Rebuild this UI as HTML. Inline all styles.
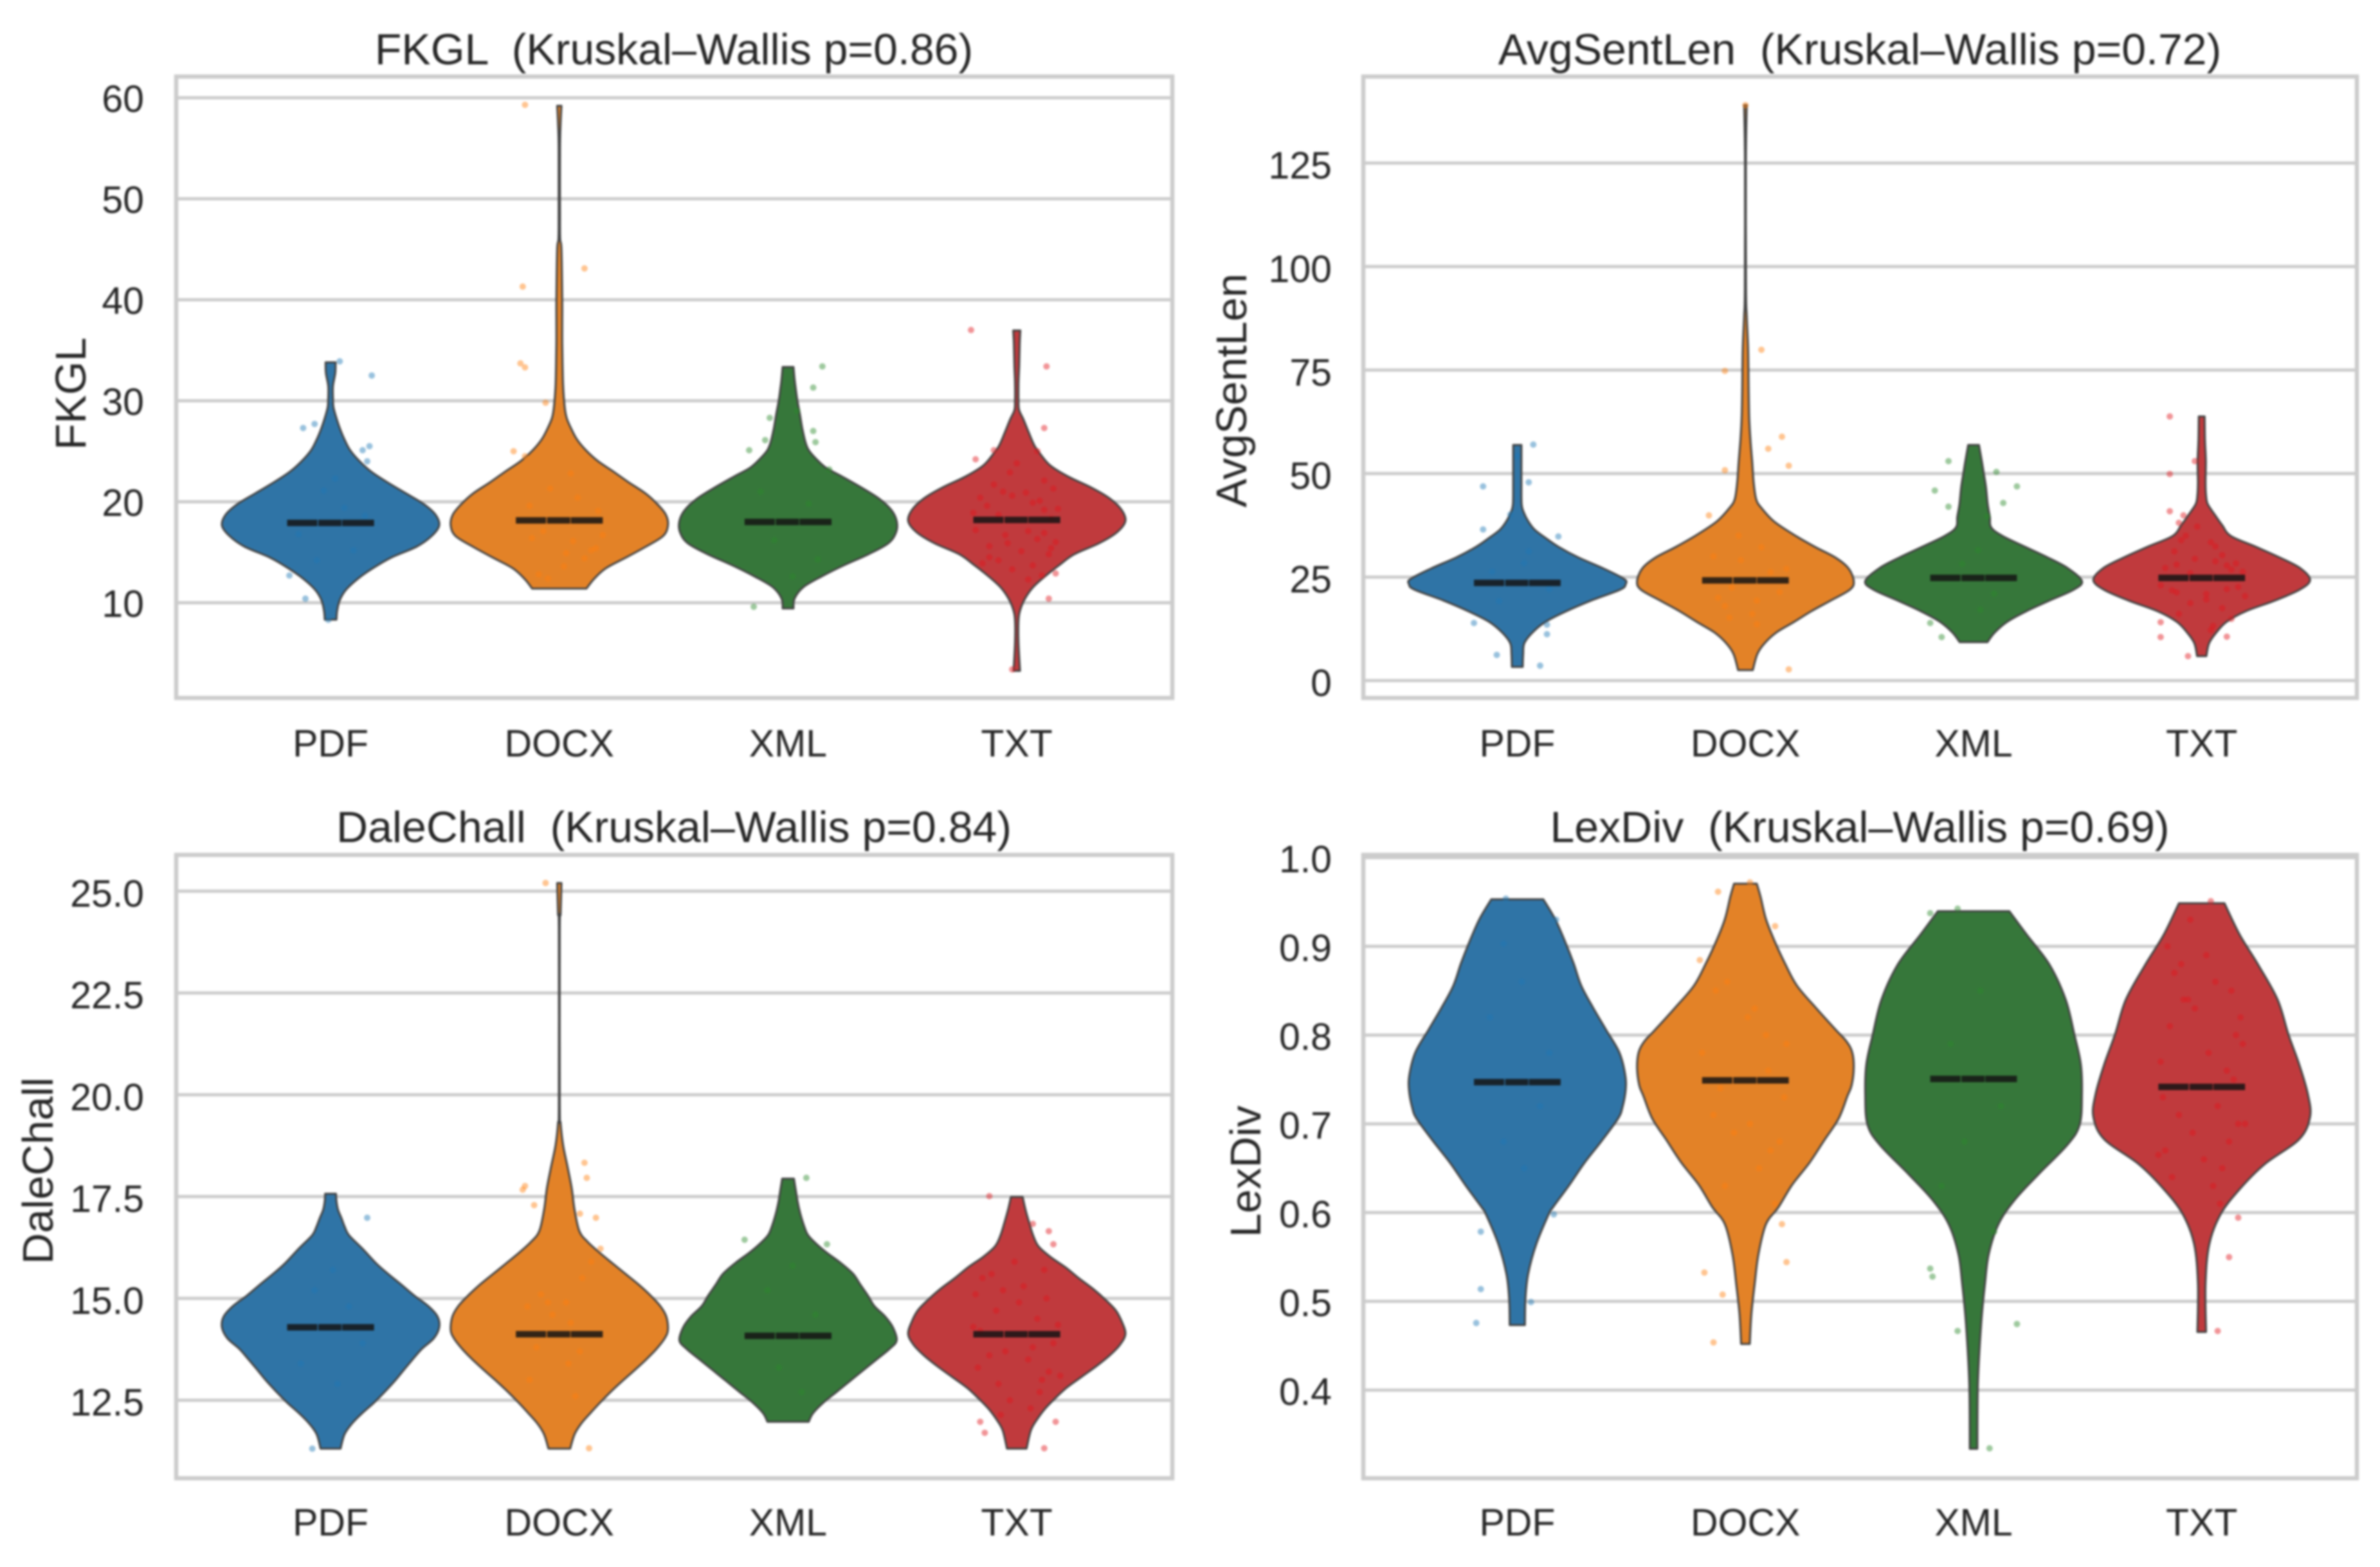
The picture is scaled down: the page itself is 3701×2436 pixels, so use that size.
<!DOCTYPE html>
<html lang="en">
<head>
<meta charset="utf-8">
<title>Readability metrics by format</title>
<style>
html,body{margin:0;padding:0;background:#fff;width:3701px;height:2436px;overflow:hidden}
svg{display:block;filter:blur(1.6px)}
text{font-family:"Liberation Sans",Arial,sans-serif;fill:#262626;white-space:pre}
.title{font-size:68px;text-anchor:middle}
.ylab{font-size:67px;text-anchor:middle}
.tick{font-size:59px}
</style>
</head>
<body>
<svg id="figure" xmlns="http://www.w3.org/2000/svg" width="3701" height="2436" viewBox="0 0 3701 2436">
  <rect width="3701" height="2436" fill="#ffffff"/>
  <g id="panel-fkgl">
    <text class="title" x="1048" y="100">FKGL  (Kruskal–Wallis p=0.86)</text>
    <text class="ylab" transform="translate(133,612) rotate(-90)">FKGL</text>
  </g>
  <g id="panel-avg">
    <text class="title" x="2892" y="100">AvgSentLen  (Kruskal–Wallis p=0.72)</text>
    <text class="ylab" transform="translate(1938,607) rotate(-90)">AvgSentLen</text>
  </g>
  <g id="panel-dale">
    <text class="title" x="1048" y="1309">DaleChall  (Kruskal–Wallis p=0.84)</text>
    <text class="ylab" transform="translate(82,1820) rotate(-90)">DaleChall</text>
  </g>
  <g id="panel-lex">
    <text class="title" x="2892" y="1309">LexDiv  (Kruskal–Wallis p=0.69)</text>
    <text class="ylab" transform="translate(1960,1821) rotate(-90)">LexDiv</text>
  </g>
</svg>
<script>
/* ---------- shared categories ---------- */
const categories = ['PDF', 'DOCX', 'XML', 'TXT'];

/* ---------- FKGL ---------- */
const fkglTicks = [10, 20, 30, 40, 50, 60];
const fkglTickLabels = ['10', '20', '30', '40', '50', '60'];
const fkglMedians = [17.9, 18.15, 18.0, 18.2];

const fkglPdfValues = [8.32, 9.17, 10.24, 11.29, 12.36, 13.42, 14.48, 15.54, 16.6, 17.66, 18.73, 19.79, 20.85, 21.91, 22.97, 24.03, 25.1, 26.16, 27.22, 28.28, 29.34, 30.19, 31.46, 32.74, 33.8];
const fkglPdfDensity = [.054, .06, .084, .143, .25, .39, .56, .79, .93, 1, .965, .855, .69, .525, .375, .265, .18, .128, .087, .054, .027, .022, .022, .043, .046];
const fkglDocxValues = [11.4, 12.36, 13.42, 14.48, 15.54, 16.6, 17.66, 18.73, 19.79, 20.85, 21.91, 22.97, 24.03, 25.1, 26.16, 27.22, 28.28, 29.34, 31.46, 33.59, 35.71, 37.83, 40, 45, 46, 48, 55, 57.5, 59.2];
const fkglDocxDensity = [.25, .32, .43, .615, .795, .955, 1, .98, .9, .79, .64, .5, .355, .245, .163, .11, .068, .05, .035, .03, .027, .027, .027, .02, .008, .006, .006, .012, .02];
const fkglXmlValues = [9.43, 10.41, 11.53, 12.61, 13.71, 14.8, 15.9, 17.0, 18.09, 19.19, 20.29, 21.38, 22.48, 23.36, 24.23, 25.11, 25.99, 27.31, 28.62, 29.94, 31.25, 32.13, 33.34];
const fkglXmlDensity = [.05, .06, .14, .31, .515, .74, .925, .995, 1, .95, .84, .68, .5, .35, .26, .19, .158, .13, .11, .087, .07, .06, .05];
const fkglTxtValues = [3.25, 6.03, 8.22, 9.32, 10.41, 11.53, 12.61, 13.71, 14.8, 15.9, 17.0, 18.09, 19.19, 20.29, 21.38, 22.48, 23.58, 24.68, 25.55, 26.87, 28.18, 29.06, 29.94, 31.69, 33.45, 35.64, 36.95];
const fkglTxtDensity = [.03, .016, .016, .033, .076, .15, .26, .39, .53, .76, .925, 1, .965, .86, .69, .475, .31, .22, .163, .11, .06, .022, .016, .016, .022, .027, .033];

const fkglPdfPointValues = [33.9, 32.5, 27.3, 27.7, 25.1, 25.5, 24, 12.7, 10.4, 8.3, 15.2, 16.8, 19.4, 21.1, 14.2, 18.6, 22.3];
const fkglPdfPointJitter = [.04, .18, -.12, -.07, .14, .17, .16, -.18, -.11, -.01, .1, -.14, .06, -.03, -.06, .15, .02];
const fkglDocxPointValues = [59.3, 43.1, 41.3, 33.7, 33.3, 29.8, 25, 24.5, 14.9, 15.2, 16.1, 16.4, 13.6, 12.8, 19.6, 20.4, 21.3, 15.4, 17.1, 22.8, 14.4, 19.1, 12.4, 16.7];
const fkglDocxPointJitter = [-.15, .11, -.16, -.17, -.15, -.06, -.2, -.15, .03, .14, .06, -.12, .02, -.09, -.13, .08, -.04, .16, -.07, .05, .11, .17, -.05, .19];
const fkglXmlPointValues = [33.4, 31.3, 28.3, 29, 27, 26.1, 25.9, 25.1, 23.2, 9.6, 16.2, 19.8, 14.3, 21, 12.6];
const fkglXmlPointJitter = [.15, .11, -.08, .04, .11, -.1, .12, -.17, .18, -.15, -.06, .09, .13, -.12, .02];
const fkglTxtPointValues = [37, 33.4, 27.3, 24.2, 25.1, 25, 10.4, 3.4, 22.9, 22.1, 21.7, 21.3, 20.9, 20.4, 20.1, 19.6, 19.3, 17.2, 16.7, 16.3, 16, 15.6, 15.1, 14.8, 14.2, 13.7, 13.3, 12.7, 12.3, 23.8, 18.9, 15.4, 17.1, 21, 19.9, 13.9, 18.7, 19.2, 16.9, 18.3, 20.6, 15.9, 14.5, 12.9];
const fkglTxtPointJitter = [-.2, .13, .12, -.18, -.1, .09, .14, -.02, -.03, .12, -.1, .16, .04, -.16, .1, -.13, .18, -.18, -.05, .09, .17, -.12, .02, .14, -.08, .07, -.02, .11, .05, .0, -.19, .15, .05, -.06, .07, -.15, -.08, .12, .12, .15, -.02, -.04, -.12, .17];

/* ---------- AvgSentLen ---------- */
const avgTicks = [0, 25, 50, 75, 100, 125];
const avgTickLabels = ['0', '25', '50', '75', '100', '125'];
const avgMedians = [23.6, 24.2, 24.8, 24.8];

const avgPdfValues = [3.31, 6.42, 9.01, 11.6, 14.18, 16.78, 19.37, 21.96, 23.25, 24.55, 27.14, 29.72, 32.31, 34.38, 36.46, 38.53, 40.6, 42.67, 47.85, 53.0, 56.9];
const avgPdfDensity = [.05, .054, .065, .14, .26, .455, .685, .95, 1, .985, .79, .565, .38, .265, .16, .1, .06, .04, .038, .038, .038];
const avgDocxValues = [2.53, 6.42, 9.01, 11.6, 14.18, 16.78, 19.37, 21.96, 24.03, 27.14, 29.72, 32.31, 35.42, 38.53, 41.63, 43.7, 47.85, 53.0, 58.2, 63.4, 70, 80, 88, 95, 125, 139];
const avgDocxDensity = [.068, .11, .177, .285, .45, .61, .79, .965, 1, .95, .83, .64, .435, .26, .15, .1, .076, .062, .046, .035, .03, .025, .012, .005, .004, .012];
const avgXmlValues = [9.27, 11.6, 14.18, 16.78, 19.37, 21.96, 24.03, 27.14, 29.72, 32.31, 34.9, 36.97, 39.56, 42.67, 46.8, 49.92, 53, 56.9];
const avgXmlDensity = [.128, .195, .31, .49, .705, .925, 1, .87, .685, .475, .27, .163, .15, .13, .114, .095, .076, .05];
const avgTxtValues = [5.9, 9.01, 11.6, 14.18, 16.78, 19.37, 21.96, 24.3, 27.14, 29.72, 32.31, 34.9, 37.49, 40.08, 42.67, 44.74, 47.85, 53, 58.2, 63.8];
const avgTxtDensity = [.043, .068, .135, .23, .41, .68, .905, 1, .91, .72, .5, .27, .19, .12, .055, .04, .035, .038, .03, .027];

const avgPdfPointValues = [57, 54.2, 47.9, 46.9, 40.1, 36.5, 34.8, 13.9, 13.5, 11.2, 6.2, 3.6, 28.4, 19.2, 31.2, 22.1, 26.3];
const avgPdfPointJitter = [.07, 0, .05, -.15, -.03, -.15, .18, -.19, .13, .13, -.09, .1, .03, -.08, .05, .14, -.11];
const avgDocxPointValues = [139, 79.9, 74.8, 58.9, 56, 51.9, 50.8, 39.9, 2.7, 32.2, 29.1, 27, 21.4, 20, 18, 16.1, 30, 26.2, 22.5, 13.6, 35, 19.3, 15.2];
const avgDocxPointJitter = [0, .07, -.09, .16, .1, .19, -.09, -.16, .19, .07, -.02, .18, .15, -.12, -.09, .03, -.14, .11, -.06, .05, -.03, .05, -.07];
const avgXmlPointValues = [53, 50.4, 46.9, 45.9, 42.9, 42, 39.7, 13.9, 10.5, 21, 28.2, 17.1, 31.5];
const avgXmlPointJitter = [-.11, .1, .19, -.17, .13, -.11, .06, -.19, -.14, .09, -.05, .03, .02];
const avgTxtPointValues = [63.8, 53, 49.9, 40.9, 39.9, 38.1, 14.1, 10.5, 10.6, 5.9, 37.2, 35, 33.4, 32.4, 31.2, 30.3, 29.4, 28.3, 27.2, 26.3, 23, 22.1, 21.3, 20.4, 19.6, 18.7, 17.5, 16.1, 14.9, 13.2, 12.2, 33.9, 28.8, 21.8, 27.8, 26.8, 22.6, 20.9, 25.9, 28];
const avgTxtPointJitter = [-.14, -.03, -.14, -.14, -.08, -.1, -.18, -.18, .11, -.06, -.02, -.07, .04, .06, -.12, .09, -.03, .15, -.16, .18, -.18, .11, -.11, .19, .02, -.05, .09, -.1, .13, .05, .04, -.09, .06, -.13, .11, .13, .16, .02, -.05, -.11];

/* ---------- DaleChall ---------- */
const daleTicks = [12.5, 15, 17.5, 20, 22.5, 25];
const daleTickLabels = ['12.5', '15.0', '17.5', '20.0', '22.5', '25.0'];
const daleMedians = [14.29, 14.12, 14.08, 14.12];

const dalePdfValues = [11.31, 11.66, 11.92, 12.18, 12.44, 12.71, 12.97, 13.23, 13.5, 13.76, 14.02, 14.29, 14.55, 14.81, 15.07, 15.34, 15.6, 15.86, 16.23, 16.55, 16.76, 16.97, 17.18, 17.39, 17.57];
const dalePdfDensity = [.092, .128, .195, .29, .4, .5, .59, .67, .755, .84, .95, 1, .985, .9, .77, .65, .53, .42, .29, .17, .13, .1, .068, .054, .05];
const daleDocxValues = [11.31, 11.66, 11.92, 12.18, 12.44, 12.71, 12.97, 13.23, 13.5, 13.76, 14.02, 14.23, 14.55, 14.81, 15.07, 15.34, 15.6, 15.86, 16.13, 16.39, 16.65, 17.18, 17.71, 18.23, 18.76, 19.3, 19.78, 24, 24.45, 25.2];
const daleDocxDensity = [.1, .14, .2, .285, .375, .475, .58, .69, .8, .895, .97, 1, .985, .93, .84, .73, .61, .49, .367, .26, .185, .14, .114, .076, .035, .012, .004, .004, .012, .02];
const daleXmlValues = [11.97, 12.18, 12.44, 12.71, 12.97, 13.23, 13.5, 13.76, 13.97, 14.29, 14.55, 14.81, 15.07, 15.34, 15.6, 15.86, 16.13, 16.34, 16.55, 16.76, 17.07, 17.39, 17.71, 17.94];
const daleXmlDensity = [.19, .23, .325, .45, .57, .69, .815, .935, 1, .965, .895, .795, .735, .665, .6, .49, .353, .26, .185, .15, .114, .087, .068, .054];
const daleTxtValues = [11.31, 11.76, 12.02, 12.29, 12.55, 12.81, 13.08, 13.34, 13.6, 13.86, 14.13, 14.44, 14.71, 14.97, 15.23, 15.5, 15.76, 16.02, 16.28, 16.55, 16.86, 17.18, 17.49];
const daleTxtDensity = [.09, .13, .185, .26, .355, .46, .6, .735, .855, .95, 1, .965, .91, .815, .705, .57, .45, .31, .2, .15, .114, .08, .054];

const dalePdfPointValues = [16.98, 11.31, 15.2, 14.8, 13.4, 13.9, 12.9, 15.7];
const dalePdfPointJitter = [.16, -.08, -.07, .08, -.13, .14, .03, .01];
const daleDocxPointValues = [25.2, 18.33, 17.96, 17.76, 17.67, 17.29, 17.08, 16.98, 16.22, 11.32, 15.5, 15.1, 14.8, 14.6, 14.4, 13.8, 13.4, 13, 12.6, 15.9, 14.9, 13.7, 14.9];
const daleDocxPointJitter = [-.06, .11, .12, -.15, -.16, -.11, .09, .16, .18, .13, .1, -.08, -.14, -.03, .05, -.1, .04, -.13, .07, .14, .03, .09, -.05];
const daleXmlPointValues = [17.96, 16.44, 16.33, 15.2, 14.6, 13.3, 12.7, 15.8];
const daleXmlPointJitter = [.08, -.19, .17, -.09, .12, -.04, .06, .02];
const daleTxtPointValues = [17.51, 16.83, 16.65, 16.33, 11.97, 11.97, 11.7, 11.32, 12.14, 15.9, 15.7, 15.5, 15.3, 15.1, 15, 14.7, 14.5, 14.2, 13.9, 13.7, 13.5, 13.3, 13.1, 12.9, 12.7, 12.5, 15.6, 14.9, 13.8, 13.2, 12.3, 14.35, 14.3, 13.6, 13.0, 15.2];
const daleTxtPointJitter = [-.12, .07, .14, .16, -.16, .17, -.14, .12, -.07, -.01, .12, -.15, .03, -.18, .13, -.09, .09, -.16, .16, -.05, .05, -.17, .19, -.08, .1, -.03, -.11, .01, .07, .14, .06, .18, -.19, -.12, .11, -.06];

/* ---------- LexDiv ---------- */
const lexTicks = [0.4, 0.5, 0.6, 0.7, 0.8, 0.9, 1.0];
const lexTickLabels = ['0.4', '0.5', '0.6', '0.7', '0.8', '0.9', '1.0'];
const lexMedians = [0.747, 0.749, 0.7506, 0.7416];

const lexPdfValues = [.4733, .5026, .5307, .5645, .5982, .6061, .6311, .656, .681, .706, .7184, .7384, .7559, .7808, .8058, .8307, .8557, .8807, .9056, .9305, .953];
const lexPdfDensity = [.07, .075, .1, .175, .29, .33, .48, .62, .78, .93, .97, 1, .995, .94, .82, .7, .59, .52, .44, .35, .24];
const lexDocxValues = [.452, .4857, .5195, .5532, .587, .6061, .6311, .656, .681, .706, .7309, .7434, .7633, .7808, .7933, .8058, .8307, .8557, .8807, .9056, .9305, .9557, .9705];
const lexDocxDensity = [.04, .055, .085, .12, .19, .305, .43, .59, .725, .86, .94, .98, 1, .985, .93, .835, .65, .475, .365, .27, .19, .14, .105];
const lexXmlValues = [.3339, .407, .4745, .5195, .5532, .587, .6151, .6432, .6769, .6994, .7332, .7669, .8007, .84, .8794, .9132, .9396];
const lexXmlDensity = [.035, .04, .07, .105, .14, .23, .385, .6, .87, .98, 1, .99, .93, .85, .7, .49, .33];
const lexTxtValues = [.4655, .5195, .5645, .5982, .6263, .6544, .6826, .7079, .7332, .7669, .8007, .84, .8794, .9132, .9486];
const lexTxtDensity = [.04, .035, .07, .175, .35, .58, .9, 1, .98, .9, .8, .7, .52, .35, .21];

const lexPdfPointValues = [.9537, .93, .903, .598, .5785, .5138, .4992, .4756, .82, .72, .68, .78, .65, .86];
const lexPdfPointJitter = [-.05, .17, -.06, .16, -.16, -.16, .06, -.18, -.12, .1, -.06, .14, .03, .02];
const lexDocxPointValues = [.972, .9615, .9227, .8845, .587, .5442, .5324, .5076, .4537, .86, .83, .82, .8, .78, .76, .73, .71, .69, .67, .65, .63, .61, .85, .79, .7, .74, .68];
const lexDocxPointJitter = [.02, -.12, .13, -.2, .16, .18, -.18, -.1, -.14, -.08, .04, .01, .09, -.19, .1, .17, -.14, -.05, .11, .06, -.09, .13, -.13, .18, .02, -.11, .15];
const lexXmlPointValues = [.9373, .9424, .5369, .5279, .5785, .4666, .4745, .3344, .85, .79, .72, .68, .63];
const lexXmlPointJitter = [-.19, -.07, -.19, -.18, .09, -.07, .19, .07, .03, -.1, .12, -.04, -.14];
const lexTxtPointValues = [.9508, .5943, .5498, .4666, .93, .9, .89, .87, .86, .85, .84, .83, .81, .8, .79, .78, .77, .76, .73, .72, .71, .7, .69, .68, .67, .66, .65, .64, .63, .61, .82, .75, .88, .84, .7, .665];
const lexTxtPointJitter = [.04, .16, .12, .07, -.05, -.15, .02, -.12, .06, .13, -.08, -.03, -.14, .15, .18, .03, -.18, .11, -.17, .07, -.1, .16, -.04, .12, -.16, .01, .09, -.13, .05, .08, .17, .14, -.09, -.06, .19, -.19];

/* ---------- palette ---------- */
const violinColors = ['#2f74a6', '#e38227', '#36773a', '#c03a3d'];
const dotColors = ['#1f77b4', '#ff7f0e', '#2c8a2c', '#e0161c'];

/* ---------- panel definitions ---------- */
const panels = [
  { id: 'panel-fkgl', key: 'fkgl', box: [274, 119, 1823, 1085], ylim: [0.57, 62.1],
    ticks: fkglTicks, labels: fkglTickLabels, medians: fkglMedians, labelX: 224, labelDy: 22, xLabelY: 1176,
    values: [fkglPdfValues, fkglDocxValues, fkglXmlValues, fkglTxtValues],
    density: [fkglPdfDensity, fkglDocxDensity, fkglXmlDensity, fkglTxtDensity],
    pv: [fkglPdfPointValues, fkglDocxPointValues, fkglXmlPointValues, fkglTxtPointValues],
    pj: [fkglPdfPointJitter, fkglDocxPointJitter, fkglXmlPointJitter, fkglTxtPointJitter] },
  { id: 'panel-avg', key: 'avgsentlen', box: [2120, 119, 3665, 1085], ylim: [-4.2, 145.9],
    ticks: avgTicks, labels: avgTickLabels, medians: avgMedians, labelX: 2071, labelDy: 24, xLabelY: 1176,
    values: [avgPdfValues, avgDocxValues, avgXmlValues, avgTxtValues],
    density: [avgPdfDensity, avgDocxDensity, avgXmlDensity, avgTxtDensity],
    pv: [avgPdfPointValues, avgDocxPointValues, avgXmlPointValues, avgTxtPointValues],
    pj: [avgPdfPointJitter, avgDocxPointJitter, avgXmlPointJitter, avgTxtPointJitter] },
  { id: 'panel-dale', key: 'dalechall', box: [274, 1329, 1823, 2298], ylim: [10.584, 25.89],
    ticks: daleTicks, labels: daleTickLabels, medians: daleMedians, labelX: 224, labelDy: 24, xLabelY: 2387,
    values: [dalePdfValues, daleDocxValues, daleXmlValues, daleTxtValues],
    density: [dalePdfDensity, daleDocxDensity, daleXmlDensity, daleTxtDensity],
    pv: [dalePdfPointValues, daleDocxPointValues, daleXmlPointValues, daleTxtPointValues],
    pj: [dalePdfPointJitter, daleDocxPointJitter, daleXmlPointJitter, daleTxtPointJitter] },
  { id: 'panel-lex', key: 'lexdiv', box: [2120, 1329, 3665, 2298], ylim: [0.3007, 1.003],
    ticks: lexTicks, labels: lexTickLabels, medians: lexMedians, labelX: 2071, labelDy: 23, xLabelY: 2387,
    values: [lexPdfValues, lexDocxValues, lexXmlValues, lexTxtValues],
    density: [lexPdfDensity, lexDocxDensity, lexXmlDensity, lexTxtDensity],
    pv: [lexPdfPointValues, lexDocxPointValues, lexXmlPointValues, lexTxtPointValues],
    pj: [lexPdfPointJitter, lexDocxPointJitter, lexXmlPointJitter, lexTxtPointJitter] }
];

const SVGNS = 'http://www.w3.org/2000/svg';
const XLIM = [-0.675, 3.68];
const HALF_WIDTH = 0.475;

function make(tag, attrs, parent) {
  const node = document.createElementNS(SVGNS, tag);
  for (const k in attrs) node.setAttribute(k, attrs[k]);
  parent.appendChild(node);
  return node;
}

function smoothSegment(pts, reverse) {
  const p = reverse ? pts.slice().reverse() : pts;
  let d = '';
  for (let i = 0; i < p.length - 1; i++) {
    const p0 = p[Math.max(i - 1, 0)], p1 = p[i], p2 = p[i + 1], p3 = p[Math.min(i + 2, p.length - 1)];
    const c1 = [p1[0] + (p2[0] - p0[0]) / 6, p1[1] + (p2[1] - p0[1]) / 6];
    const c2 = [p2[0] - (p3[0] - p1[0]) / 6, p2[1] - (p3[1] - p1[1]) / 6];
    d += 'C' + c1[0].toFixed(1) + ' ' + c1[1].toFixed(1) + ' ' + c2[0].toFixed(1) + ' ' + c2[1].toFixed(1) + ' ' + p2[0].toFixed(1) + ' ' + p2[1].toFixed(1);
  }
  return d;
}

panels.forEach(function (panel) {
  const g = document.getElementById(panel.id);
  const [left, top, right, bottom] = panel.box;
  const xScale = function (v) { return left + (v - XLIM[0]) / (XLIM[1] - XLIM[0]) * (right - left); };
  const yScale = function (v) { return bottom - (v - panel.ylim[0]) / (panel.ylim[1] - panel.ylim[0]) * (bottom - top); };

  /* grid lines and y tick labels */
  panel.ticks.forEach(function (t, i) {
    const line = make('line', { x1: left, x2: right, y1: yScale(t), y2: yScale(t), stroke: '#cccccc', 'stroke-width': 5 }, g);
    
    
    const label = make('text', { class: 'tick', x: panel.labelX, y: yScale(t) + panel.labelDy, 'text-anchor': 'end' }, g);
    
    
    label.textContent = panel.labels[i];
  });

  /* violins */
  categories.forEach(function (cat, c) {
    const vals = panel.values[c], dens = panel.density[c];
    const leftSide = vals.map(function (v, i) { return [xScale(c - dens[i] * HALF_WIDTH), yScale(v)]; });
    const rightSide = vals.map(function (v, i) { return [xScale(c + dens[i] * HALF_WIDTH), yScale(v)]; });
    const d = 'M' + leftSide[0][0].toFixed(1) + ' ' + leftSide[0][1].toFixed(1) + smoothSegment(leftSide, false) +
      'L' + rightSide[rightSide.length - 1][0].toFixed(1) + ' ' + rightSide[rightSide.length - 1][1].toFixed(1) +
      smoothSegment(rightSide, true) + 'Z';
    const violin = make('path', { d: d, fill: violinColors[c], stroke: '#424242', 'stroke-width': 3, 'stroke-linejoin': 'round' }, g);
    
    
  });

  /* jittered points */
  categories.forEach(function (cat, c) {
    panel.pv[c].forEach(function (v, i) {
      const dot = make('circle', { cx: xScale(c + panel.pj[c][i]), cy: yScale(v), r: 5, fill: dotColors[c], 'fill-opacity': 0.46 }, g);
      
      
    });
  });

  /* median bars */
  categories.forEach(function (cat, c) {
    const bar = make('line', { x1: xScale(c - 0.19), x2: xScale(c + 0.19), y1: yScale(panel.medians[c]), y2: yScale(panel.medians[c]), stroke: '#141414', 'stroke-opacity': 0.85, 'stroke-width': 10, 'stroke-dasharray': '47 1.5 36 1 50' }, g);
    
    
  });

  /* frame */
  const frame = make('rect', { x: left, y: top, width: right - left, height: bottom - top, fill: 'none', stroke: '#cccccc', 'stroke-width': 6.5 }, g);
  
  

  /* x tick labels */
  categories.forEach(function (cat, c) {
    const label = make('text', { class: 'tick', x: xScale(c), y: panel.xLabelY, 'text-anchor': 'middle' }, g);
    
    
    label.textContent = cat;
  });
});
</script>
</body>
</html>
